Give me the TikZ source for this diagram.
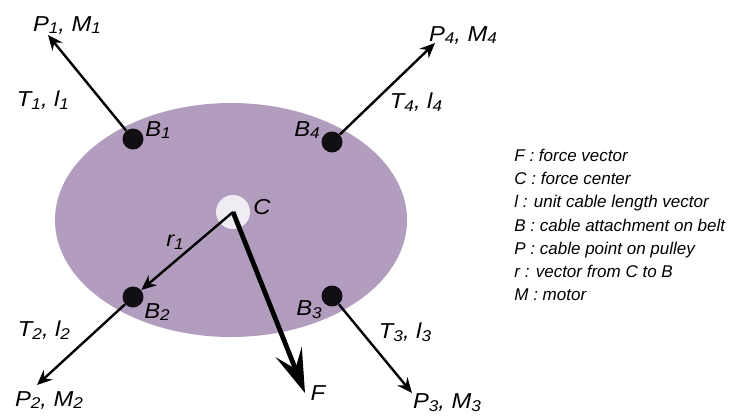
\documentclass[tikz,border=0pt]{standalone}
\usepackage{fontspec}
\setmainfont{Liberation Sans}
\newfontfamily\lblfont[FakeStretch=1.1]{Liberation Sans}
\usepackage{tikz}
\usetikzlibrary{arrows.meta}
\definecolor{beltpurple}{RGB}{179,157,191}
\definecolor{centerwhite}{RGB}{240,236,244}
\definecolor{dotblack}{RGB}{17,14,20}
\newcommand{\ix}[1]{\raisebox{-0.25ex}{\fontsize{7.8}{8}\selectfont #1}}
\tikzset{
  attach/.style={circle, fill=dotblack, inner sep=0pt, minimum size=10.5pt},
  cable/.style={line width=1.2pt, -{Stealth[length=7.5pt, width=6.5pt, inset=2.5pt]}},
  force/.style={line width=2.4pt, -{Stealth[length=22pt, width=14pt, inset=9pt]}},
  lbl/.style={font=\lblfont\itshape\fontsize{10.8}{12}\selectfont, inner sep=0pt},
  key/.style={font=\itshape\fontsize{8.5}{11.65}\selectfont, align=left, inner sep=0pt}
}

\begin{document}
\begin{tikzpicture}[x=0.5pt, y=-0.5pt]
    \useasboundingbox (0,0) rectangle (732,419);
    % Belt
    \fill[beltpurple] (231,220) ellipse [x radius=88pt, y radius=58.5pt];

    % Nodes
    \node [attach] (B1) at (133,139) {};
    \node [attach] (B2) at (133,297) {};
    \node [attach] (B3) at (332,296) {};
    \node [attach] (B4) at (332,142) {};
    \node [circle, fill=centerwhite, inner sep=0pt, minimum size=17pt] (C) at (233,212) {};
    \coordinate (P1) at (48,35);
    \coordinate (P2) at (37,385);
    \coordinate (P3) at (412,393);
    \coordinate (P4) at (435,43);
    \coordinate (Ftip) at (305,393);

    % Edges
    \draw [cable] (B1) -- (P1);
    \draw [cable] (B2) -- (P2);
    \draw [cable] (B3) -- (P3);
    \draw [cable] (B4) -- (P4);
    \draw [cable] (C.center) -- (B2);
    \draw [force] (C.center) -- (Ftip);

    % Labels
    \node [lbl] (lP1) at (67,25) {P\ix{1}, M\ix{1}};
    \node [lbl] (lT1) at (43,100) {T\ix{1}, l\ix{1}};
    \node [lbl] (lB1) at (158,130) {B\ix{1}};
    \node [lbl] (lP4) at (463,35) {P\ix{4}, M\ix{4}};
    \node [lbl] (lT4) at (416,102) {T\ix{4}, l\ix{4}};
    \node [lbl] (lB4) at (307,130) {B\ix{4}};
    \node [lbl] (lC) at (262,207) {C};
    \node [lbl] (lr1) at (175,242) {r\ix{1}};
    \node [lbl] (lB2) at (157,312) {B\ix{2}};
    \node [lbl] (lT2) at (44,330) {T\ix{2}, l\ix{2}};
    \node [lbl] (lP2) at (49,400) {P\ix{2}, M\ix{2}};
    \node [lbl] (lB3) at (309,310) {B\ix{3}};
    \node [lbl] (lT3) at (405,332) {T\ix{3}, l\ix{3}};
    \node [lbl] (lF) at (318,393) {F};
    \node [lbl] (lP3) at (447,403) {P\ix{3}, M\ix{3}};

    % Legend
    \node [key, anchor=west] (legend) at (514,225) {F : force vector\\
        C : force center\\
        l : unit cable length vector\\
        B : cable attachment on belt\\
        P : cable point on pulley\\
        r : vector from C to B\\
        M : motor};
\end{tikzpicture}
\end{document}
